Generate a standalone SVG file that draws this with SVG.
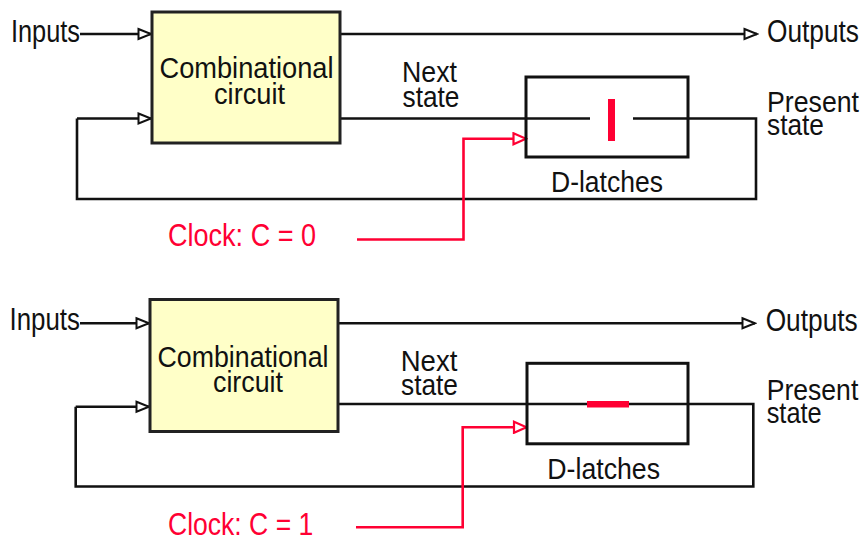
<svg xmlns="http://www.w3.org/2000/svg" width="865" height="540" viewBox="0 0 865 540">
<defs>
<style>
text{font-family:"Liberation Sans",Arial,sans-serif;fill:#111;}
.t{font-size:30px;}
.big{font-size:32px;}
.red{fill:#ff0033;}
.box{fill:#ffffc8;stroke:#222;stroke-width:3;}
.latch{fill:none;stroke:#111;stroke-width:3;}
.w{fill:none;stroke:#111;stroke-width:2.6;}
.rw{fill:none;stroke:#ff0033;stroke-width:2.6;}
.ab{marker-end:url(#ab);}
.ar{marker-end:url(#ar);}
</style>
<marker id="ab" markerUnits="userSpaceOnUse" markerWidth="16" markerHeight="14" viewBox="0 0 16 14" refX="14.5" refY="7" orient="auto">
<path d="M2,2 L14.5,7 L2,12 Z" fill="#fff" stroke="#111" stroke-width="2"/>
</marker>
<marker id="ar" markerUnits="userSpaceOnUse" markerWidth="16" markerHeight="14" viewBox="0 0 16 14" refX="14.5" refY="7" orient="auto">
<path d="M2,1.5 L14.5,7 L2,12.5 Z" fill="#fff" stroke="#ff0033" stroke-width="2.2"/>
</marker>
</defs>

<!-- Top diagram -->
<g id="connectors-top">
<path class="w ab" d="M80 34 H151"/>
<path class="w ab" d="M341 34 H757"/>
<path class="w" d="M341 118.5 H590"/>
<path class="w" d="M633 118.5 H756 V199 H77 V118.5"/>
<path class="w ab" d="M77 118.5 H151"/>
<path class="rw ar" d="M357 239.5 H463.5 V138.8 H526"/>
</g>
<g id="comb-top">
<rect class="box" x="152" y="12" width="188" height="131"/>
<text class="t" x="159.5" y="77.5" textLength="174" lengthAdjust="spacingAndGlyphs">Combinational</text>
<text class="t" x="214" y="103.5" textLength="71" lengthAdjust="spacingAndGlyphs">circuit</text>
</g>
<g id="latch-top">
<rect class="latch" x="526" y="77" width="162" height="80"/>
<rect x="608" y="99" width="7" height="42" fill="#ff0033"/>
<text class="t" x="551" y="192" textLength="112" lengthAdjust="spacingAndGlyphs">D-latches</text>
</g>
<g id="labels-top">
<text class="big" x="11" y="41.7" textLength="69" lengthAdjust="spacingAndGlyphs">Inputs</text>
<text class="big" x="767" y="42" textLength="92" lengthAdjust="spacingAndGlyphs">Outputs</text>
<text class="t" x="402" y="81.7" textLength="55" lengthAdjust="spacingAndGlyphs">Next</text>
<text class="t" x="402.5" y="106.7" textLength="57" lengthAdjust="spacingAndGlyphs">state</text>
<text class="t" x="767" y="111.7" textLength="92" lengthAdjust="spacingAndGlyphs">Present</text>
<text class="t" x="767" y="135" textLength="57" lengthAdjust="spacingAndGlyphs">state</text>
<text class="big red" x="168" y="246" textLength="148" lengthAdjust="spacingAndGlyphs">Clock: C = 0</text>
</g>

<!-- Bottom diagram -->
<g id="connectors-bottom">
<path class="w ab" d="M80 323.3 H149"/>
<path class="w ab" d="M339 323.3 H755"/>
<path class="w" d="M339 404 H753.3 V486.5 H75.7 V406.7"/>
<path class="w ab" d="M75.7 406.7 H149"/>
<path class="rw ar" d="M356 527.3 H462.7 V427.3 H526.5"/>
</g>
<g id="comb-bottom">
<rect class="box" x="150" y="299.5" width="188" height="132"/>
<text class="t" x="157.5" y="366.7" textLength="171" lengthAdjust="spacingAndGlyphs">Combinational</text>
<text class="t" x="213" y="391.7" textLength="70" lengthAdjust="spacingAndGlyphs">circuit</text>
</g>
<g id="latch-bottom">
<rect class="latch" x="527" y="363.3" width="161" height="80.5"/>
<rect x="587" y="401" width="42" height="6.5" fill="#ff0033"/>
<text class="t" x="547.3" y="478.5" textLength="112.7" lengthAdjust="spacingAndGlyphs">D-latches</text>
</g>
<g id="labels-bottom">
<text class="big" x="9.5" y="329.5" textLength="70.5" lengthAdjust="spacingAndGlyphs">Inputs</text>
<text class="big" x="765.7" y="331" textLength="92" lengthAdjust="spacingAndGlyphs">Outputs</text>
<text class="t" x="400.7" y="370.7" textLength="56.6" lengthAdjust="spacingAndGlyphs">Next</text>
<text class="t" x="401" y="395" textLength="57" lengthAdjust="spacingAndGlyphs">state</text>
<text class="t" x="766.7" y="400" textLength="91.6" lengthAdjust="spacingAndGlyphs">Present</text>
<text class="t" x="766.7" y="422.5" textLength="55" lengthAdjust="spacingAndGlyphs">state</text>
<text class="big red" x="168" y="534.5" textLength="145.3" lengthAdjust="spacingAndGlyphs">Clock: C = 1</text>
</g>
</svg>
